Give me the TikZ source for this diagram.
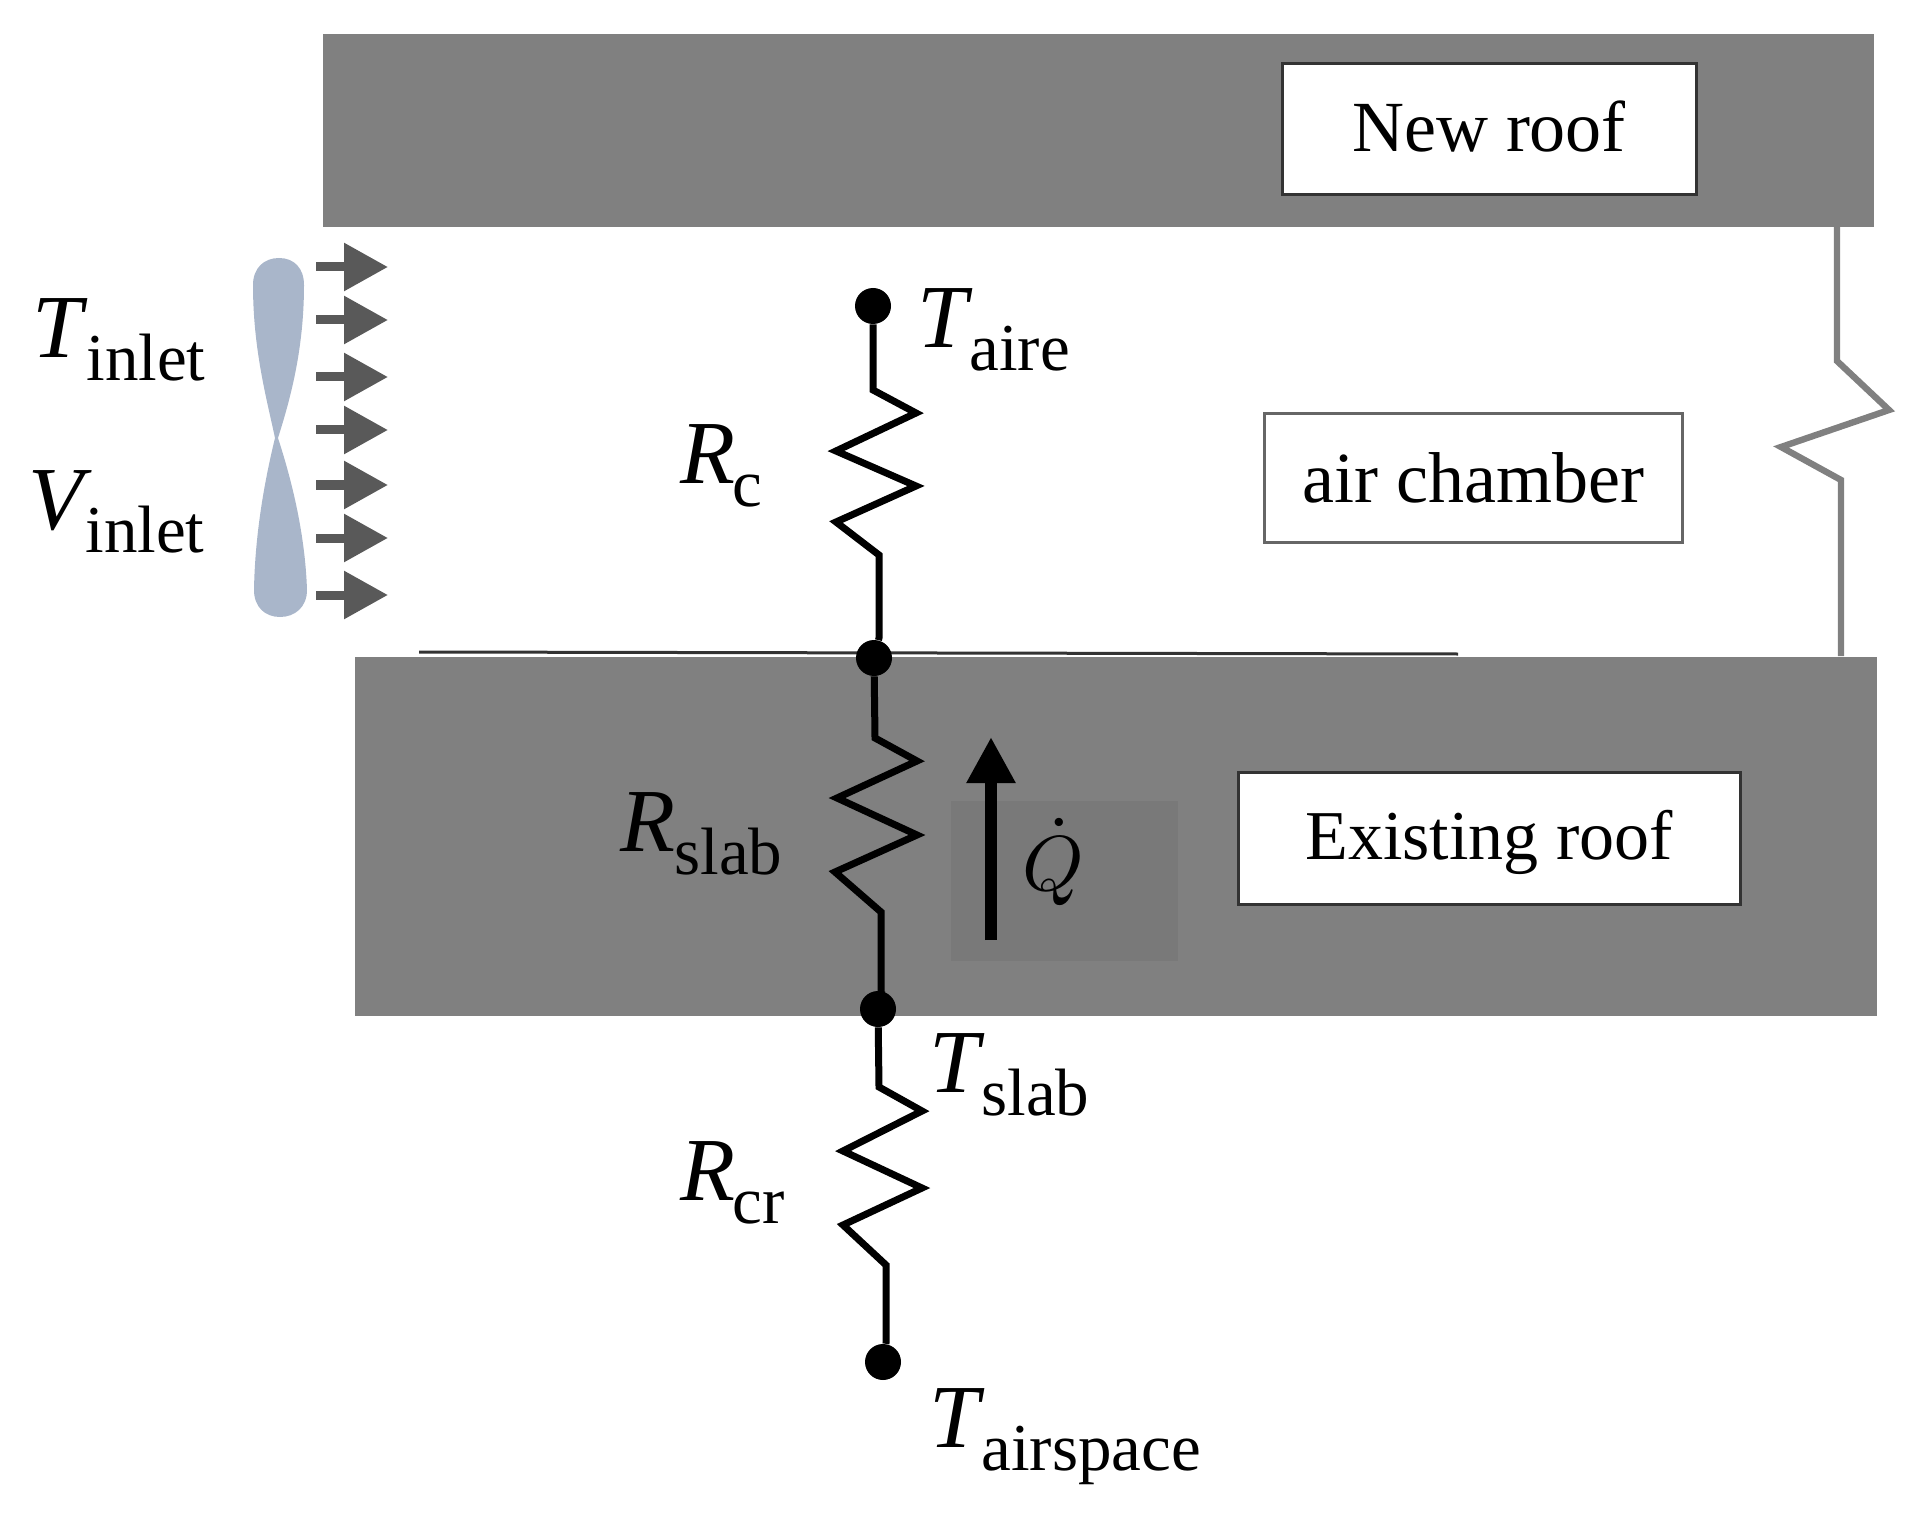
\documentclass[tikz,border=0pt]{standalone}
\usepackage{fontspec}
\usepackage{amsmath}
\usepackage{graphicx}
\usetikzlibrary{arrows.meta}
\setmainfont{Liberation Serif}

\definecolor{roofgray}{HTML}{808080}
\definecolor{patchgray}{HTML}{797979}
\definecolor{fanblue}{HTML}{A9B6CA}
\definecolor{flowgray}{HTML}{595959}

\newcommand{\symlabel}[3][1pt]{{\fontsize{45}{45}\selectfont\itshape #2}\hspace{#1}\raisebox{-11.5pt}{\fontsize{33.5}{33.5}\selectfont #3}}

\begin{document}
\begin{tikzpicture}[x=0.5pt, y=-0.5pt,
    band/.style = {fill=roofgray},
    tag/.style = {draw=black!80, line width=1.5pt, fill=white, inner sep=0pt, font=\fontsize{36}{36}\selectfont},
    dot/.style = {circle, fill=black, inner sep=0pt, minimum size=18pt},
    wire/.style = {black, line width=3.5pt},
    wall/.style = {roofgray, line width=3.2pt},
    flow/.style = {flowgray, line width=4.5pt, -{Triangle[length=22pt, width=23pt]}},
    sym/.style = {anchor=base west, inner sep=0pt}]
    \useasboundingbox (0,0) rectangle (1920,1513);

    % roof layers
    \fill[band] (323,34) rectangle (1874,227);
    \fill[band] (355,657) rectangle (1877,1016);
    \fill[patchgray] (951,801) rectangle (1178,961);
    \draw[black!80, line width=1.5pt] (419,652) -- (1458,654);

    \node[tag, minimum width=207pt, minimum height=65.5pt, text height=24.6pt, text depth=2.4pt] (newroof) at (1489,129.5) {New roof};
    \node[tag, draw=black!60, minimum width=209pt, minimum height=64pt] (chamber) at (1473,478) {air chamber};
    \node[tag, minimum width=251pt, minimum height=66pt, font=\fontsize{35}{35}\selectfont, text height=26pt, text depth=4.6pt] (existing) at (1489,838) {Existing roof};

    % side wall
    \coordinate (walltop) at (1837,227);
    \coordinate (wallend) at (1841,656);
    \draw[wall] (walltop) -- (1837,361) -- (1889,410) -- (1781,447) -- (1841,480) -- (wallend);

    % fan
    \fill[fanblue] (279,258) .. controls (294,258) and (304,268) .. (304,285) .. controls (304,350) and (290,400) .. (278,438)
        .. controls (290,475) and (305,530) .. (307,590) .. controls (307,607) and (295,617) .. (280,617)
        .. controls (265,617) and (254,607) .. (254,590) .. controls (255,530) and (266,475) .. (275,438)
        .. controls (267,400) and (253,350) .. (253,285) .. controls (253,268) and (264,258) .. (279,258) -- cycle;

    \foreach \i/\y in {1/267, 2/320, 3/377, 4/430, 5/485, 6/538, 7/595} {
        \coordinate (flowa\i) at (316,\y);
        \coordinate (flowb\i) at (388,\y);
        \draw[flow] (flowa\i) -- (flowb\i);
    }

    % thermal network
    \node[dot] (aire) at (873,306) {};
    \node[dot] (top) at (874,658) {};
    \node[dot] (slab) at (878,1009) {};
    \node[dot] (airspace) at (883,1362) {};

    \draw[wire] (aire) -- (873,390) -- (916,413) -- (836,451) -- (916,486) -- (836,522) -- (879,555) -- (879,638) -- (top);
    \draw[wire] (top) -- (875,738) -- (917,761) -- (837,798) -- (917,835) -- (835,872) -- (881,912) -- (881,995) -- (slab);
    \draw[wire] (slab) -- (879,1087) -- (922,1111) -- (843,1151) -- (922,1188) -- (843,1225) -- (886,1265) -- (886,1343) -- (airspace);

    \coordinate (qstart) at (991,940);
    \coordinate (qend) at (991,737);
    \draw[black, line width=6pt, -{Triangle[length=23pt, width=23pt]}] (qstart) -- (qend);

    % labels
    \node[sym] (tinlet) at (32,358) {\symlabel[2pt]{T}{inlet}};
    \node[sym] (vinlet) at (28,529) {\symlabel{V}{inlet}};
    \node[sym] (taire) at (917,348) {\symlabel{T}{aire}};
    \node[sym] (rc) at (680,484) {\symlabel[-1.5pt]{R}{c}};
    \node[sym] (rslab) at (620,851) {\symlabel[-0.5pt]{R}{slab}};
    \node[sym] (tslab) at (929,1092) {\symlabel{T}{slab}};
    \node[sym] (rcr) at (680,1200) {\symlabel[-1.5pt]{R}{cr}};
    \node[sym] (tairspace) at (929,1447) {\symlabel{T}{airspace}};
    \node[inner sep=0pt] (qdot) at (1053,862) {\scalebox{3.9}{$\dot{Q}$}};
\end{tikzpicture}
\end{document}
